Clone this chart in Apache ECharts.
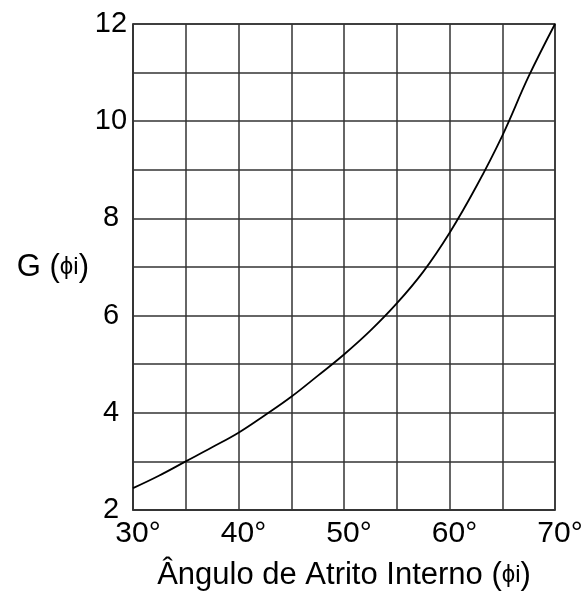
<!DOCTYPE html>
<html>
<head>
<meta charset="utf-8">
<title>G(phi)</title>
<script src="https://cdn.jsdelivr.net/npm/echarts@6/dist/echarts.min.js"></script>
<style>
    html, body { margin: 0; padding: 0; background: #fff; }
    #chart { width: 587px; height: 591px; }
</style>
</head>
<body>
<div id="chart"></div>
<script>
// angulo de atrito interno (graus) e G
var angles = [30, 32.5, 35, 37.5, 40, 42.5, 45, 47.5, 50, 52.5, 55, 57.5, 60, 62.5, 65, 67.5, 70];
var gValues = [2.45, 2.71, 3.0, 3.29, 3.59, 3.95, 4.33, 4.76, 5.2, 5.69, 6.25, 6.9, 7.7, 8.64, 9.7, 10.92, 12.0];
var xTicks = [30, 40, 50, 60, 70];
var yTicks = [2, 4, 6, 8, 10, 12];

var fontName = 'Liberation Sans';
var lineColor = '#333';

var curve = [];
for (var i = 0; i < angles.length; i++) {
    curve.push([angles[i], gValues[i]]);
}

var chart = echarts.init(document.getElementById('chart'));
var option = {
    backgroundColor: '#fff',
    animation: false,
    grid: {
        left: 133,
        right: 32,
        top: 24,
        bottom: 81,
        outerBoundsMode: 'none',
        show: true,
        borderColor: lineColor,
        borderWidth: 1.5
    },
    xAxis: {
        type: 'value',
        min: 30,
        max: 70,
        interval: 5,
        name: 'Ângulo de Atrito Interno ({s|ϕi})',
        nameLocation: 'middle',
        nameGap: 50,
        nameTextStyle: {
            fontFamily: fontName,
            fontSize: 31,
            color: '#000',
            rich: { s: { fontFamily: fontName, fontSize: 24, color: '#000' } }
        },
        axisLine: { show: true, lineStyle: { color: lineColor, width: 1.5 } },
        axisTick: { show: false },
        splitLine: { show: true, lineStyle: { color: lineColor, width: 1.5 } },
        axisLabel: {
            margin: 9,
            fontFamily: fontName,
            fontSize: 30,
            color: '#000',
            padding: [0, 0, 0, 10],
            showMaxLabel: true,
            formatter: function (v) {
                return xTicks.indexOf(v) >= 0 ? v + '°' : '';
            }
        }
    },
    yAxis: {
        type: 'value',
        min: 2,
        max: 12,
        interval: 1,
        name: 'G ({s|ϕi})',
        nameLocation: 'middle',
        nameRotate: 0,
        nameGap: 38,
        nameTextStyle: {
            fontFamily: fontName,
            fontSize: 31,
            color: '#000',
            rich: { s: { fontFamily: fontName, fontSize: 24, color: '#000' } }
        },
        axisLine: { show: true, lineStyle: { color: lineColor, width: 1.5 } },
        axisTick: { show: false },
        splitLine: { show: true, lineStyle: { color: lineColor, width: 1.5 } },
        axisLabel: {
            margin: 22,
            align: 'center',
            fontFamily: fontName,
            fontSize: 29,
            color: '#000',
            formatter: function (v) {
                return yTicks.indexOf(v) >= 0 ? String(v) : '';
            }
        }
    },
    series: [
        {
            name: 'G',
            type: 'line',
            data: curve,
            smooth: 0.4,
            symbol: 'none',
            lineStyle: { color: '#000', width: 1.8 }
        }
    ]
};
chart.setOption(option);
</script>
</body>
</html>
